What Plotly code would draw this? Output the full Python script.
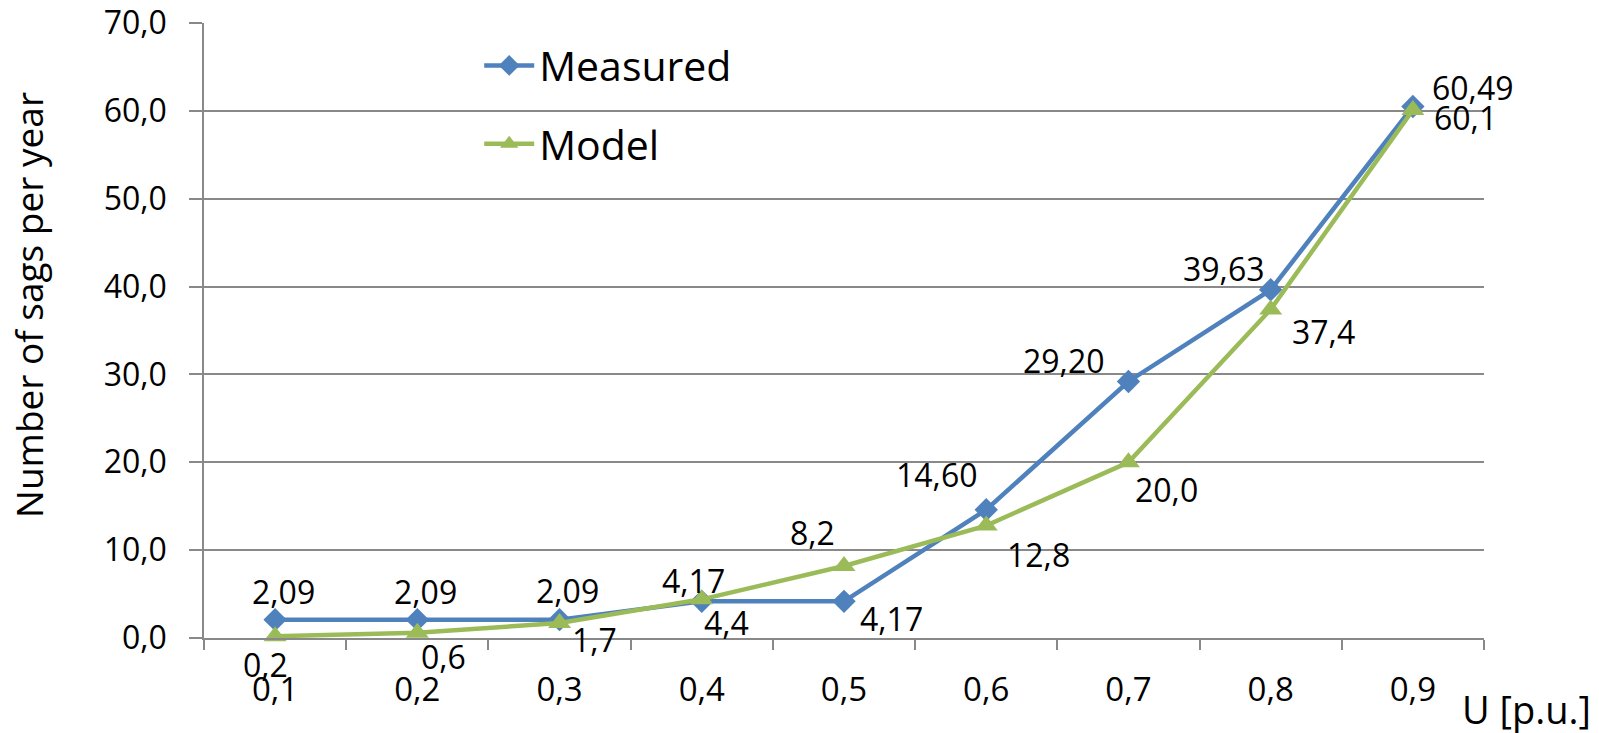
import plotly.graph_objects as go

categories = ["0,1", "0,2", "0,3", "0,4", "0,5", "0,6", "0,7", "0,8", "0,9"]
measured = [2.09, 2.09, 2.09, 4.17, 4.17, 14.60, 29.20, 39.63, 60.49]
model = [0.2, 0.6, 1.7, 4.4, 8.2, 12.8, 20.0, 37.4, 60.1]
y_ticks = [0, 10, 20, 30, 40, 50, 60, 70]
y_tick_text = [f"{v:.1f}".replace(".", ",") for v in y_ticks]

measured_text = [f"{v:.2f}".replace(".", ",") for v in measured]
model_text = [f"{v:.1f}".replace(".", ",") for v in model]

# label offsets from the marker, in pixels (dx right, dy down) - styling only
measured_off = [(8, -28), (8, -28), (8, -29), (-8, -21), (47, 17),
                (-50, -35), (-65, -21), (-47, -21), (60, -19)]
model_off = [(-10, 28), (26, 24), (35, 16), (25, 23), (-32, -33),
             (52, 29), (38, 27), (53, 22), (53, 8)]

FONT = "Open Sans"
BLUE = "#4F81BD"
GREEN = "#9BBB59"
GRID = "#898989"
LBL = 32

fig = go.Figure()
fig.add_trace(go.Scatter(
    x=categories, y=measured, name="Measured", mode="lines+markers",
    line=dict(color=BLUE, width=4.5),
    marker=dict(symbol="diamond", size=18, color=BLUE),
    legendgroup="a", cliponaxis=False,
))
fig.add_trace(go.Scatter(
    x=categories, y=model, name="Model", mode="lines+markers",
    line=dict(color=GREEN, width=4.5),
    marker=dict(symbol="triangle-up", size=20, color=GREEN),
    legendgroup="b", cliponaxis=False,
))

for xs, ys, txt, offs in [(categories, measured, measured_text, measured_off),
                          (categories, model, model_text, model_off)]:
    for xv, yv, t, (dx, dy) in zip(xs, ys, txt, offs):
        fig.add_annotation(x=xv, y=yv, xref="x", yref="y", text=t, showarrow=False,
                           xanchor="center", yanchor="middle", xshift=dx, yshift=-dy,
                           font=dict(size=LBL, family=FONT, color="#000000"))

fig.update_layout(
    width=1599, height=733,
    margin=dict(l=196, r=123, t=15, b=103, autoexpand=False),
    paper_bgcolor="white", plot_bgcolor="white",
    font=dict(family=FONT, size=LBL, color="#000000"),
    showlegend=True,
    legend=dict(x=0.215, y=0.985, xanchor="left", yanchor="top",
                font=dict(size=41, family=FONT), bgcolor="rgba(0,0,0,0)",
                traceorder="grouped", tracegroupgap=22, itemwidth=50),
    xaxis=dict(type="category", tickson="boundaries", ticks="outside", ticklen=10,
               tickcolor=GRID, tickwidth=1.5, showline=True, linecolor=GRID, linewidth=1.5,
               showgrid=False, tickfont=dict(size=33, family=FONT), range=[-0.5, 8.5],
               automargin=False, ticklabeloverflow="allow", ticklabelstandoff=22),
    yaxis=dict(range=[0, 70], tickvals=y_ticks, ticktext=y_tick_text, ticks="outside",
               ticklen=13, tickcolor=GRID, tickwidth=1.5, showline=True, linecolor=GRID,
               linewidth=1.5, showgrid=True, gridcolor=GRID, gridwidth=1.5,
               zeroline=False, tickfont=dict(size=32, family=FONT), automargin=False,
               ticklabeloverflow="allow", ticklabelstandoff=16),
)

fig.add_annotation(text="Number of sags per year", textangle=-90, xref="paper", yref="paper",
                   x=-0.137, y=0.541, xanchor="center", yanchor="middle", showarrow=False,
                   font=dict(size=37, family=FONT))
fig.add_annotation(text="U [p.u.]", xref="paper", yref="paper", x=0.981, y=-0.115,
                   xanchor="left", yanchor="middle", showarrow=False,
                   font=dict(size=38, family=FONT))

fig.write_html("out.html")
